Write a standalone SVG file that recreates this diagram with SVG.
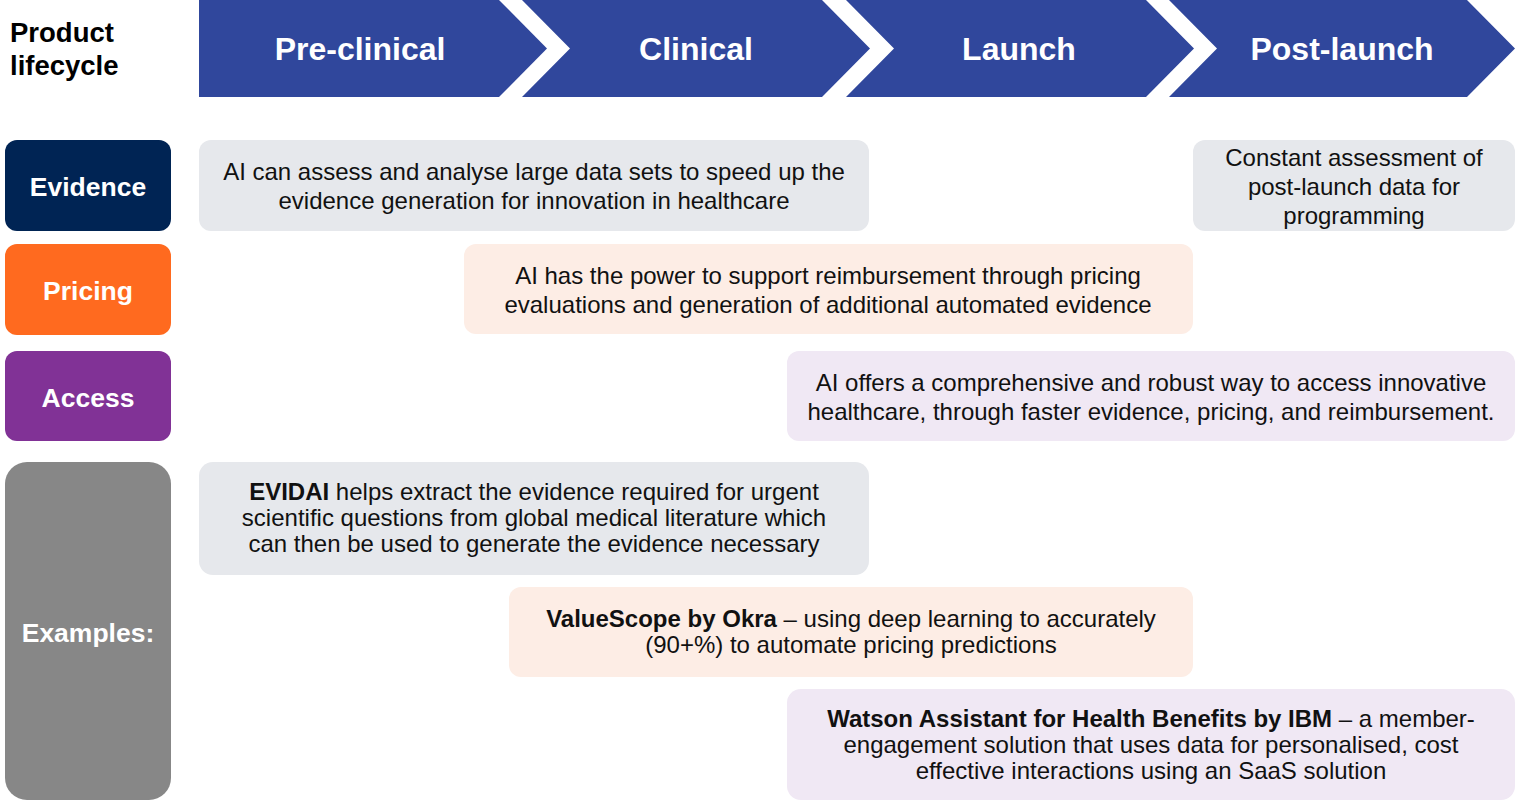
<svg xmlns="http://www.w3.org/2000/svg" width="1530" height="801" viewBox="0 0 1530 801">
  <style>
    .stage { fill: #30479C; }
    .stage-label { font-family: "Liberation Sans", Arial, sans-serif; font-size: 32px; font-weight: bold; fill: #FFFFFF; text-anchor: middle; }
    .title { font-family: "Liberation Sans", Arial, sans-serif; font-size: 27.5px; font-weight: bold; fill: #000000; }
    .tag-label { font-family: "Liberation Sans", Arial, sans-serif; font-size: 26.5px; font-weight: bold; fill: #FFFFFF; text-anchor: middle; }
    .body { font-family: "Liberation Sans", Arial, sans-serif; font-size: 24px; fill: #111111; text-anchor: middle; }
    .b { font-weight: bold; }
    .grey { fill: #E6E8EC; }
    .peach { fill: #FDEDE5; }
    .lilac { fill: #F0E8F4; }
  </style>

  <!-- Lifecycle heading -->
  <g id="lifecycle-title">
    <text class="title" x="10" y="42">Product</text>
    <text class="title" x="10" y="75">lifecycle</text>
  </g>

  <!-- Stage chevrons -->
  <g id="stage-preclinical">
    <polygon class="stage" points="199,0 499,0 547,48.5 499,97 199,97"/>
    <text class="stage-label" x="360" y="60">Pre-clinical</text>
  </g>
  <g id="stage-clinical">
    <polygon class="stage" points="522,0 822,0 870,48.5 822,97 522,97 570,48.5"/>
    <text class="stage-label" x="696" y="60">Clinical</text>
  </g>
  <g id="stage-launch">
    <polygon class="stage" points="846,0 1146,0 1194,48.5 1146,97 846,97 894,48.5"/>
    <text class="stage-label" x="1019" y="60">Launch</text>
  </g>
  <g id="stage-postlaunch">
    <polygon class="stage" points="1169,0 1467,0 1515,48.5 1467,97 1169,97 1217,48.5"/>
    <text class="stage-label" x="1342" y="60">Post-launch</text>
  </g>

  <!-- Row tags -->
  <g id="tag-evidence">
    <rect x="5" y="140" width="166" height="91" rx="12" fill="#002454"/>
    <text class="tag-label" x="88" y="196">Evidence</text>
  </g>
  <g id="tag-pricing">
    <rect x="5" y="244" width="166" height="91" rx="12" fill="#FF6A1F"/>
    <text class="tag-label" x="88" y="300">Pricing</text>
  </g>
  <g id="tag-access">
    <rect x="5" y="351" width="166" height="90" rx="12" fill="#813296"/>
    <text class="tag-label" x="88" y="407">Access</text>
  </g>
  <g id="tag-examples">
    <rect x="5" y="462" width="166" height="338" rx="22" fill="#878787"/>
    <text class="tag-label" x="88" y="642">Examples:</text>
  </g>

  <!-- Evidence row -->
  <g id="evidence-ai">
    <rect class="grey" x="199" y="140" width="670" height="91" rx="12"/>
    <text class="body" x="534" y="180">AI can assess and analyse large data sets to speed up the</text>
    <text class="body" x="534" y="209">evidence generation for innovation in healthcare</text>
  </g>
  <g id="evidence-postlaunch">
    <rect class="grey" x="1193" y="140" width="322" height="91" rx="12"/>
    <text class="body" x="1354" y="166">Constant assessment of</text>
    <text class="body" x="1354" y="195">post-launch data for</text>
    <text class="body" x="1354" y="224">programming</text>
  </g>

  <!-- Pricing row -->
  <g id="pricing-ai">
    <rect class="peach" x="464" y="244" width="729" height="90" rx="12"/>
    <text class="body" x="828" y="284">AI has the power to support reimbursement through pricing</text>
    <text class="body" x="828" y="313">evaluations and generation of additional automated evidence</text>
  </g>

  <!-- Access row -->
  <g id="access-ai">
    <rect class="lilac" x="787" y="351" width="728" height="90" rx="12"/>
    <text class="body" x="1151" y="391">AI offers a comprehensive and robust way to access innovative</text>
    <text class="body" x="1151" y="420">healthcare, through faster evidence, pricing, and reimbursement.</text>
  </g>

  <!-- Examples -->
  <g id="example-evidai">
    <rect class="grey" x="199" y="462" width="670" height="113" rx="14"/>
    <text class="body" x="534" y="500"><tspan class="b">EVIDAI</tspan> helps extract the evidence required for urgent</text>
    <text class="body" x="534" y="526">scientific questions from global medical literature which</text>
    <text class="body" x="534" y="552">can then be used to generate the evidence necessary</text>
  </g>
  <g id="example-valuescope">
    <rect class="peach" x="509" y="587" width="684" height="90" rx="12"/>
    <text class="body" x="851" y="627"><tspan class="b">ValueScope by Okra</tspan> – using deep learning to accurately</text>
    <text class="body" x="851" y="653">(90+%) to automate pricing predictions</text>
  </g>
  <g id="example-watson">
    <rect class="lilac" x="787" y="689" width="728" height="111" rx="14"/>
    <text class="body" x="1151" y="727"><tspan class="b">Watson Assistant for Health Benefits by IBM</tspan> – a member-</text>
    <text class="body" x="1151" y="753">engagement solution that uses data for personalised, cost</text>
    <text class="body" x="1151" y="779">effective interactions using an SaaS solution</text>
  </g>

  <!-- No connectors in this layout -->
  <g id="connectors"/>
</svg>
